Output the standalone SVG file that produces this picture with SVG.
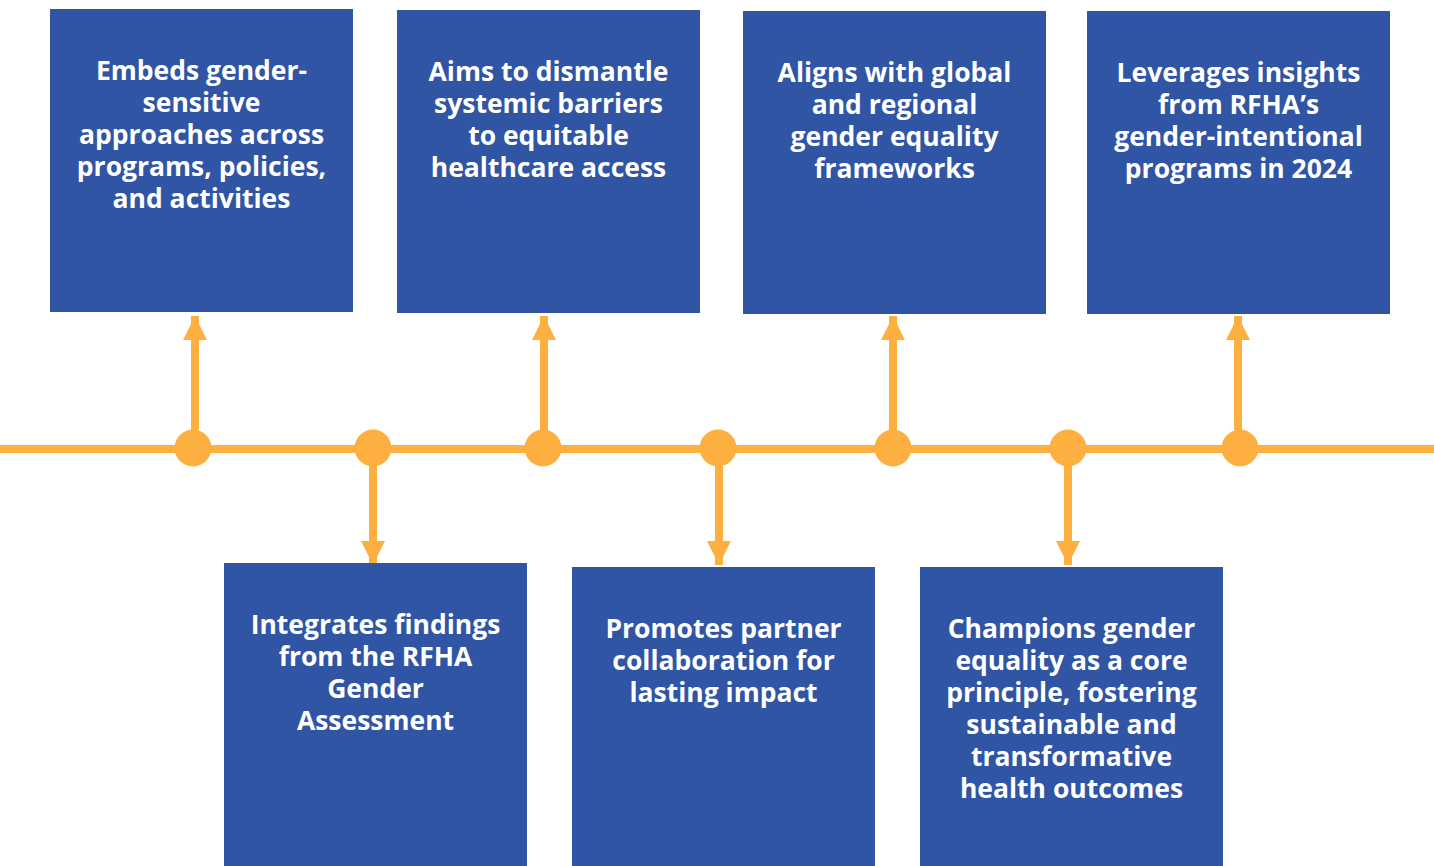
<svg xmlns="http://www.w3.org/2000/svg" width="1434" height="866" viewBox="0 0 1434 866">
<style>
.box{fill:#3055A4}
.t{font-family:"Open Sans","Noto Sans","Liberation Sans",sans-serif;font-weight:700;font-size:26.5px;fill:#ffffff;text-anchor:middle}
.ln{stroke:#FDAF3F;stroke-width:8;fill:none}
.dot{fill:#FDAF3F}
</style>
<defs>
<marker id="ah" viewBox="0 0 24 24" refX="24" refY="12" markerWidth="24" markerHeight="24" markerUnits="userSpaceOnUse" orient="auto">
<path d="M0,0 L24,12 L0,24 Z" fill="#FDAF3F"/>
</marker>
</defs>
<rect width="1434" height="866" fill="#ffffff"/>
<g id="connectors">
<line class="ln" x1="0" y1="449" x2="1434" y2="449"/>
<line class="ln" x1="195" y1="430" x2="195" y2="316" marker-end="url(#ah)"/>
<line class="ln" x1="544" y1="430" x2="544" y2="316" marker-end="url(#ah)"/>
<line class="ln" x1="893" y1="430" x2="893" y2="316" marker-end="url(#ah)"/>
<line class="ln" x1="1238" y1="430" x2="1238" y2="316" marker-end="url(#ah)"/>
<line class="ln" x1="373" y1="466" x2="373" y2="565" marker-end="url(#ah)"/>
<line class="ln" x1="719" y1="466" x2="719" y2="565" marker-end="url(#ah)"/>
<line class="ln" x1="1068" y1="466" x2="1068" y2="565" marker-end="url(#ah)"/>
<circle class="dot" cx="193" cy="448" r="18.5"/>
<circle class="dot" cx="373" cy="448" r="18.5"/>
<circle class="dot" cx="543" cy="448" r="18.5"/>
<circle class="dot" cx="718" cy="448" r="18.5"/>
<circle class="dot" cx="893" cy="448" r="18.5"/>
<circle class="dot" cx="1068" cy="448" r="18.5"/>
<circle class="dot" cx="1240" cy="448" r="18.5"/>
</g>
<g id="node1">
<rect class="box" x="50" y="9" width="303" height="303"/>
<text class="t"><tspan x="201.5" y="80">Embeds gender-</tspan><tspan x="201.5" y="112">sensitive</tspan><tspan x="201.5" y="144">approaches across</tspan><tspan x="201.5" y="176">programs, policies,</tspan><tspan x="201.5" y="208">and activities</tspan></text>
</g>
<g id="node2">
<rect class="box" x="397" y="10" width="303" height="303"/>
<text class="t"><tspan x="548.5" y="81">Aims to dismantle</tspan><tspan x="548.5" y="113">systemic barriers</tspan><tspan x="548.5" y="145">to equitable</tspan><tspan x="548.5" y="177">healthcare access</tspan></text>
</g>
<g id="node3">
<rect class="box" x="743" y="11" width="303" height="303"/>
<text class="t"><tspan x="894.5" y="82">Aligns with global</tspan><tspan x="894.5" y="114">and regional</tspan><tspan x="894.5" y="146">gender equality</tspan><tspan x="894.5" y="178">frameworks</tspan></text>
</g>
<g id="node4">
<rect class="box" x="1087" y="11" width="303" height="303"/>
<text class="t"><tspan x="1238.5" y="82">Leverages insights</tspan><tspan x="1238.5" y="114">from RFHA’s</tspan><tspan x="1238.5" y="146">gender-intentional</tspan><tspan x="1238.5" y="178">programs in 2024</tspan></text>
</g>
<g id="node5">
<rect class="box" x="224" y="563" width="303" height="303"/>
<text class="t"><tspan x="375.5" y="634">Integrates findings</tspan><tspan x="375.5" y="666">from the RFHA</tspan><tspan x="375.5" y="698">Gender</tspan><tspan x="375.5" y="730">Assessment</tspan></text>
</g>
<g id="node6">
<rect class="box" x="572" y="567" width="303" height="299"/>
<text class="t"><tspan x="723.5" y="638">Promotes partner</tspan><tspan x="723.5" y="670">collaboration for</tspan><tspan x="723.5" y="702">lasting impact</tspan></text>
</g>
<g id="node7">
<rect class="box" x="920" y="567" width="303" height="299"/>
<text class="t"><tspan x="1071.5" y="638">Champions gender</tspan><tspan x="1071.5" y="670">equality as a core</tspan><tspan x="1071.5" y="702">principle, fostering</tspan><tspan x="1071.5" y="734">sustainable and</tspan><tspan x="1071.5" y="766">transformative</tspan><tspan x="1071.5" y="798">health outcomes</tspan></text>
</g>
</svg>
